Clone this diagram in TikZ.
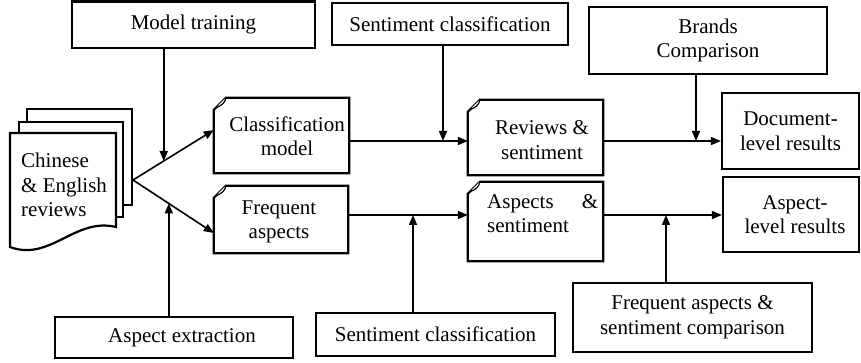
\documentclass[tikz,border=0pt]{standalone}
\usepackage{fontspec}
\setmainfont{Liberation Serif}
\usetikzlibrary{arrows.meta,calc}
\newcommand\foldframe[1]{%
  \draw[line width=2.2pt, fill=white, line join=miter]
    ([yshift=-12pt]#1.north west) -- ([xshift=12pt]#1.north west) -- (#1.north east)
    -- (#1.south east) -- (#1.south west) -- cycle;
  \draw[line width=1.2pt, fill=white]
    ([xshift=12pt]#1.north west) .. controls ([xshift=11.5pt,yshift=-5pt]#1.north west)
    and ([xshift=7pt,yshift=-8.5pt]#1.north west) .. ([xshift=2.5pt,yshift=-9.5pt]#1.north west);}
\begin{document}
\begin{tikzpicture}[x=1pt,y=-1pt,
  txt/.style={font=\fontsize{21}{24.5}\selectfont, align=center, inner sep=0pt},
  box/.style={txt, draw, line width=2.2pt, fill=white},
  frame/.style={inner sep=0pt, draw=none},
  arr/.style={line width=1.6pt, -{Triangle[length=10pt,width=8pt]}},
  page/.style={line width=2.2pt, fill=white}]
\useasboundingbox (0,0) rectangle (861,363);

% plain boxes
\node[box, minimum width=243pt, minimum height=46.5pt] (mt) at (193.5,24.75) {Model training};
\node[box, minimum width=236pt, minimum height=42pt] (sc1) at (450,24) {Sentiment classification};
\node[box, minimum width=238pt, minimum height=67pt] (bc) at (708,40.5) {Brands\\Comparison};
\node[box, minimum width=137pt, minimum height=76pt] (dl) at (790.5,131) {Document-\\level results};
\node[box, minimum width=136pt, minimum height=75pt] (al) at (791,214.5) {\hspace*{8pt}Aspect-\\\hspace*{8pt}level results};
\node[box, minimum width=238pt, minimum height=41pt] (ae) at (174,337.5) {\hspace*{16pt}Aspect extraction};
\node[box, minimum width=239pt, minimum height=43pt] (sc2) at (435.5,334.5) {Sentiment classification};
\node[box, minimum width=239pt, minimum height=69pt] (fc) at (692.5,317.5) {Frequent aspects \&\\sentiment comparison};

% folded-corner boxes
\node[frame, minimum width=135pt, minimum height=75pt] (cm) at (281.5,135.5) {};
\node[frame, minimum width=135pt, minimum height=75pt] (rs) at (535.5,137.5) {};
\node[frame, minimum width=134pt, minimum height=67pt] (fa) at (281,219.5) {};
\node[frame, minimum width=135pt, minimum height=79pt] (as) at (535.5,221.5) {};
\foldframe{cm}
\foldframe{rs}
\foldframe{fa}
\foldframe{as}
\node[txt] (cmt) at (287,136) {Classification\\model};
\node[txt] (rst) at (542,140) {Reviews \&\\sentiment};
\node[txt] (fat) at (279,222) {Frequent\\aspects};
\node[txt, align=left, anchor=north west] (ast) at (487,194) {\hbox to 111pt{Aspects\hfill\&}\\sentiment};

% document stack
\draw[page] (27,109) rectangle (132,205);
\draw[page] (19,122) rectangle (123,217);
\draw[page] (10,133) -- (116,133) -- (116,227) .. controls (75,217) and (50,262) .. (10,247) -- cycle;
\node[txt, align=left, anchor=north west] (doc) at (21,153) {Chinese\\\& English\\reviews};

% connectors
\coordinate (fork) at (133,180);
\draw[arr] (fork) -- coordinate[pos=0.38] (m1) ([yshift=5.5pt]cm.west);
\draw[arr] (fork) -- coordinate[pos=0.443] (m2) ([yshift=-13.5pt]fa.west);
\draw[arr] (mt.south -| m1) -- (m1);
\draw[arr] (ae.north -| m2) -- (m2);

\coordinate (cmout) at ([yshift=-5.5pt]cm.east);
\draw[arr] (cmout) -- (rs.west |- cmout);
\coordinate (sc1b) at ([xshift=-7pt]sc1.south);
\draw[arr] (sc1b) -- (sc1b |- cmout);
\coordinate (rsout) at (rs.east |- cmout);
\draw[arr] (rsout) -- (dl.west |- rsout);
\coordinate (bcb) at ([xshift=-12pt]bc.south);
\draw[arr] (bcb) -- (bcb |- rsout);

\coordinate (faout) at ([yshift=4.5pt]fa.east);
\draw[arr] (faout) -- (as.west |- faout);
\coordinate (sc2t) at ([xshift=-22.5pt]sc2.north);
\draw[arr] (sc2t) -- (sc2t |- faout);
\coordinate (asout) at (as.east |- faout);
\draw[arr] (asout) -- (al.west |- asout);
\coordinate (fct) at ([xshift=-26.5pt]fc.north);
\draw[arr] (fct) -- (fct |- asout);
\end{tikzpicture}
\end{document}
